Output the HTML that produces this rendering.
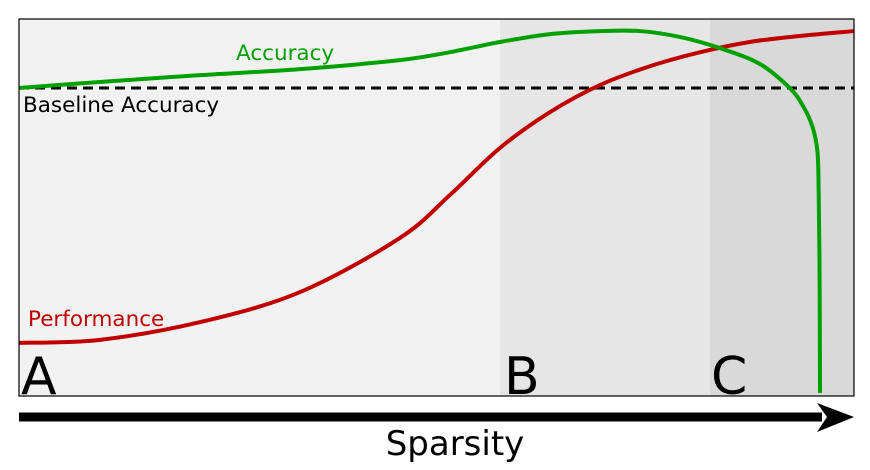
<!DOCTYPE html>
<html><head><meta charset="utf-8"><style>
html,body{margin:0;padding:0;background:#fff;width:870px;height:470px;overflow:hidden}
svg{display:block;font-family:"DejaVu Sans","Liberation Sans",sans-serif}
</style></head><body>
<svg id="chart" width="870" height="470">
<rect x="19" y="19" width="481" height="377" fill="#f2f2f2"/>
<rect x="500" y="19" width="210" height="377" fill="#e6e6e6"/>
<rect x="710" y="19" width="144" height="377" fill="#d9d9d9"/>
<line x1="19" y1="88" x2="854" y2="88" stroke="#000" stroke-width="3" stroke-dasharray="10,6"/>
<g id="series"></g>
<rect x="19" y="19" width="835" height="377" fill="none" stroke="#000" stroke-width="1.2"/>
<text x="236" y="60" font-size="21.5" fill="#00a000">Accuracy</text>
<text x="23" y="112" font-size="21.5" fill="#000">Baseline Accuracy</text>
<text x="28" y="326" font-size="21.5" fill="#c00000">Performance</text>
<text x="21" y="394" font-size="52" fill="#000">A</text>
<text x="504" y="394" font-size="52" fill="#000">B</text>
<text x="711" y="394" font-size="52" fill="#000">C</text>
<line x1="19" y1="417" x2="822" y2="417" stroke="#000" stroke-width="9"/>
<polygon points="817,403 854,417 817,432 827,417" fill="#000"/>
<text x="455" y="455" font-size="34" text-anchor="middle" fill="#000">Sparsity</text>
</svg>
<script>
const accX=[0,9.7,21.7,33.7,45.6,51.6,57.6,63.6,69.6,74.4,79.2,83.9,88.7,92.3,93.9,95.0,95.6,95.75,95.87,95.93];
const accY=[81.7,83.3,85.1,86.7,89.1,91.2,93.9,96.0,96.8,96.8,95.2,92.3,88.1,81.7,76.9,71.6,65.3,57.3,36.1,0.8];
const perfX=[0,9.7,21.7,33.7,45.6,51.6,57.6,63.6,69.6,75.6,81.6,87.5,93.5,100];
const perfY=[14.1,14.9,19.6,27.6,41.9,53.3,65.8,75.3,82.5,87.5,91.2,93.9,95.5,96.8];
function sx(v){return 19+v*8.35;}
function sy(v){return 396-v*3.77;}
function path(xs,ys){
  const p=xs.map((x,i)=>[sx(x),sy(ys[i])]);
  let d='M'+p[0][0]+','+p[0][1];
  for(let i=0;i<p.length-1;i++){
    const p0=p[i-1]||p[i],p1=p[i],p2=p[i+1],p3=p[i+2]||p2;
    const c1=[p1[0]+(p2[0]-p0[0])/6,p1[1]+(p2[1]-p0[1])/6];
    const c2=[p2[0]-(p3[0]-p1[0])/6,p2[1]-(p3[1]-p1[1])/6];
    d+=' C'+c1+' '+c2+' '+p2;
  }
  return d;
}
const g=document.getElementById('series');
function add(xs,ys,color,name){
  const el=document.createElementNS('http://www.w3.org/2000/svg','path');
  el.setAttribute('d',path(xs,ys));
  el.setAttribute('fill','none');
  el.setAttribute('stroke',color);
  el.setAttribute('stroke-width','4');
  
  
  g.appendChild(el);
}
add(perfX,perfY,'#c00000','performance-line');
add(accX,accY,'#00a000','accuracy-line');
</script>
</body></html>
